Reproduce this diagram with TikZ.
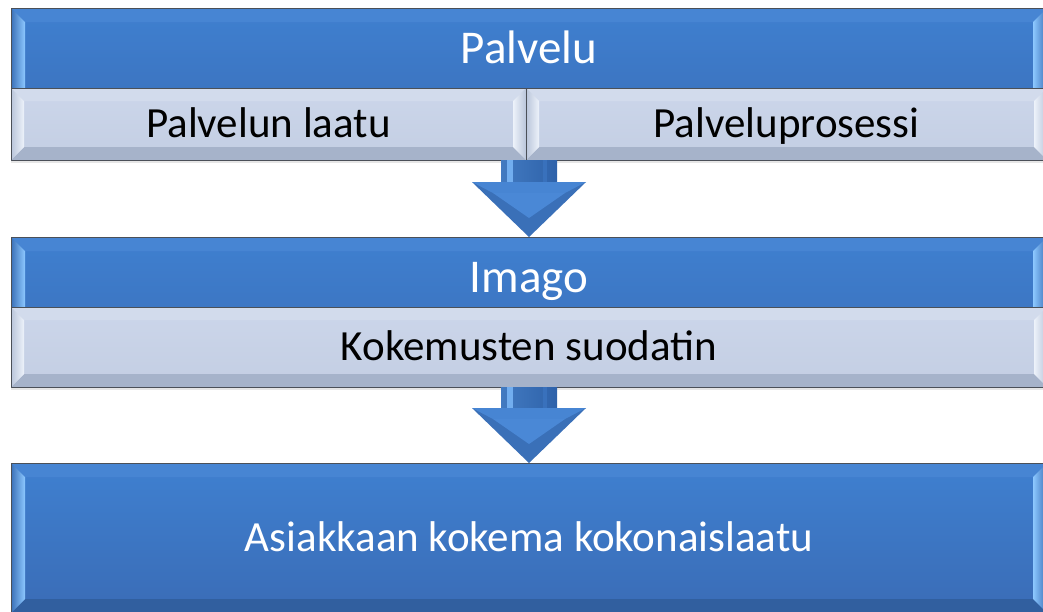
\documentclass[tikz,border=0pt]{standalone}
\usepackage{fontspec}
\setmainfont{Carlito}
\usetikzlibrary{calc,shadows}

\definecolor{faceblue}{HTML}{3F80D0}
\definecolor{lowblue}{HTML}{3A6CB6}
\definecolor{rimblue}{HTML}{3A70B8}
\definecolor{glowblue}{HTML}{8DC8FF}
\definecolor{capblue}{HTML}{4785D3}
\definecolor{footblue}{HTML}{315F9F}
\definecolor{pipeblue}{HTML}{4A88D6}
\definecolor{pipedark}{HTML}{2E62AA}
\definecolor{paleface}{HTML}{CCD6EA}
\definecolor{palelow}{HTML}{C3CEE3}
\definecolor{palerim}{HTML}{B9C5DA}
\definecolor{paleglow}{HTML}{EDF2FA}
\definecolor{palecap}{HTML}{D2DBEC}
\definecolor{palefoot}{HTML}{A6B3CA}
\definecolor{edgegray}{HTML}{4B5058}

% bevelled rim round a bar: node, depth, rim, glow, top, bottom
\newcommand{\bevel}[6]{%
  \fill[#5] (#1.north west) -- (#1.north east) -- ($(#1.north east)+(-#2,#2)$) -- ($(#1.north west)+(#2,#2)$) -- cycle;
  \fill[#6] (#1.south west) -- (#1.south east) -- ($(#1.south east)+(-#2,-#2)$) -- ($(#1.south west)+(#2,-#2)$) -- cycle;
  \shade[left color=#3, right color=#4] (#1.north west) -- ($(#1.north west)+(#2,#2)$) -- ($(#1.south west)+(#2,-#2)$) -- (#1.south west) -- cycle;
  \shade[left color=#4, right color=#3] (#1.north east) -- ($(#1.north east)+(-#2,#2)$) -- ($(#1.south east)+(-#2,-#2)$) -- (#1.south east) -- cycle;
  \draw[edgegray, line width=0.8pt] (#1.north west) rectangle (#1.south east);
}

\begin{document}
\begin{tikzpicture}[x=1pt, y=-1pt, line join=round,
  bluebar/.style={top color=faceblue, bottom color=lowblue, text=white, inner sep=0pt, outer sep=0pt, anchor=north west,
    text height=27pt, text depth=0pt},
  palebar/.style={top color=paleface, bottom color=palelow, text=black, inner sep=0pt, outer sep=0pt, anchor=north west,
    drop shadow={shadow xshift=0pt, shadow yshift=-3pt, opacity=0.2}, font=\fontsize{43}{52}\selectfont,
    text height=27pt, text depth=0pt},
  headtext/.style={text=white, font=\fontsize{47}{56}\selectfont, inner sep=0pt, text height=30pt, text depth=0pt},
  pipe/.style={left color=pipeblue!90!black, middle color=pipeblue, right color=pipedark}]
  \clip (0,0) rectangle (1043,611);

  % the blue bars run on under the pale bars
  \node[bluebar, minimum width=1036pt, minimum height=150pt] (palvelu) at (11,8) {};
  \bevel{palvelu}{14}{rimblue}{glowblue}{capblue}{footblue}
  \node[headtext] (palvelunimi) at ($(palvelu.north)+(0,40)$) {Palvelu};
  \node[palebar, minimum width=515pt, minimum height=72pt] (laatu) at (11,88) {Palvelun laatu};
  \bevel{laatu}{13}{palerim}{paleglow}{palecap}{palefoot}
  \node[palebar, minimum width=521pt, minimum height=72pt] (prosessi) at (laatu.north east) {Palveluprosessi};
  \bevel{prosessi}{13}{palerim}{paleglow}{palecap}{palefoot}

  \node[bluebar, minimum width=1036pt, minimum height=148pt] (imago) at (11,237) {};
  \bevel{imago}{14}{rimblue}{glowblue}{capblue}{footblue}
  \node[headtext] (imagonimi) at ($(imago.north)+(0,40)$) {Imago};
  \node[palebar, minimum width=1036pt, minimum height=80pt] (suodatin) at (11,307) {Kokemusten suodatin};
  \bevel{suodatin}{13}{palerim}{paleglow}{palecap}{palefoot}

  \node[bluebar, minimum width=1036pt, minimum height=150pt, font=\fontsize{43}{52}\selectfont] (kokonais) at (11,463) {Asiakkaan kokema kokonaislaatu};
  \bevel{kokonais}{14}{rimblue}{glowblue}{capblue}{footblue}

  \coordinate (lahto1) at (imago.north |- laatu.south);
  \coordinate (lahto2) at (kokonais.north |- suodatin.south);
  \foreach \a/\b in {lahto1/imago.north, lahto2/kokonais.north} {
    \shade[pipe] ($(\a)+(-28,0)$) rectangle ($(\b)+(28,-55)$);
    \fill[glowblue!60!pipeblue] ($(\a)+(-22,0)$) rectangle ($(\b)+(-16,-55)$);
    \fill[pipedark!60!pipeblue] ($(\a)+(14,0)$) rectangle ($(\b)+(18,-55)$);
    \fill[rimblue] ($(\b)+(-57,-55)$) -- (\b) -- ($(\b)+(57,-55)$) -- cycle;
    \fill[capblue] ($(\b)+(-57,-55)$) -- ($(\b)+(57,-55)$) -- ($(\b)+(36,-44)$) -- ($(\b)+(-36,-44)$) -- cycle;
    \fill[pipeblue] ($(\b)+(-36,-44)$) -- ($(\b)+(0,-19)$) -- ($(\b)+(36,-44)$) -- cycle;
  }
\end{tikzpicture}
\end{document}
